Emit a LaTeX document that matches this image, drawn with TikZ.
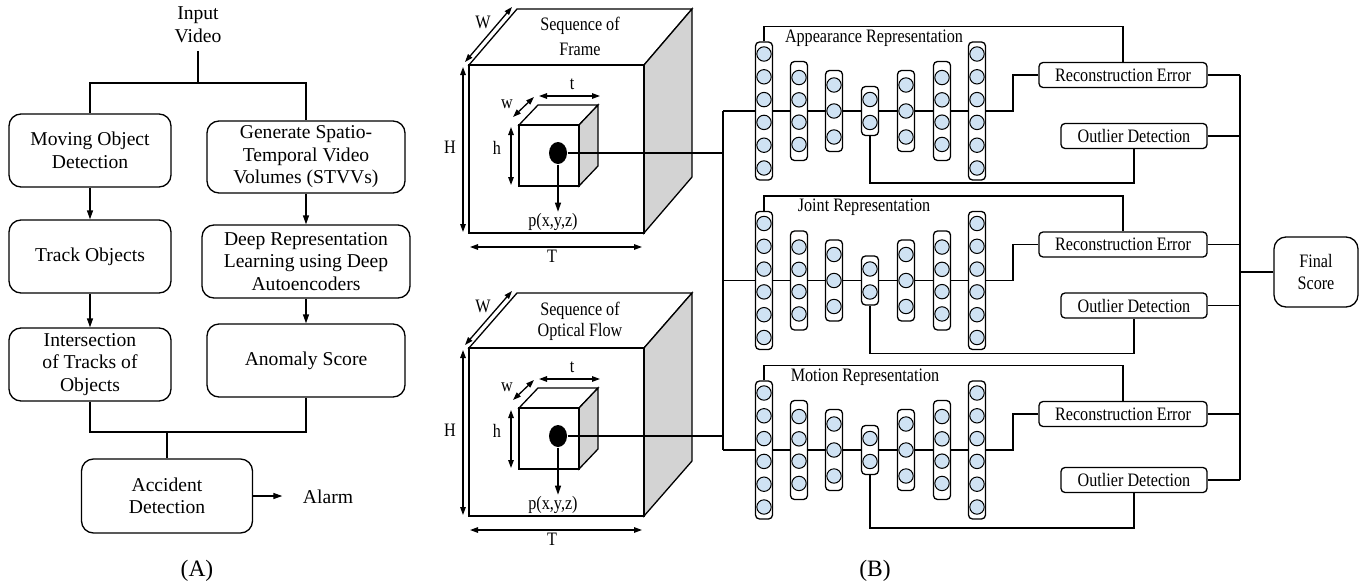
\documentclass[tikz,border=0pt]{standalone}
\usepackage{fontspec}
\setmainfont{Liberation Serif}
\newfontfamily\condser[FakeStretch=0.85]{Liberation Serif}
\usetikzlibrary{arrows.meta,shapes.geometric,calc}
\definecolor{neu}{RGB}{207,226,243}
\definecolor{side}{RGB}{211,211,211}
\newcommand\fA{\fontsize{19.6}{22.5}\selectfont}
\newcommand\fB{\condser\fontsize{19}{22}\selectfont}
\begin{document}
\begin{tikzpicture}[x=1pt,y=-1pt,line width=1.3pt,
  abox/.style={draw,rounded corners=12pt,align=center,font=\fA,inner sep=0pt},
  sbox/.style={draw,rounded corners=4pt,font=\fB,minimum height=25pt,inner sep=0pt},
  layer/.style={draw,rounded corners=4pt,minimum width=17pt,inner sep=0pt},
  lbl/.style={font=\fB,inner sep=0pt},
  arr/.style={-{Triangle[length=9pt,width=6pt]}},
  darr/.style={{Triangle[length=8pt,width=5.5pt]}-{Triangle[length=8pt,width=5.5pt]}}]
\useasboundingbox (0,0) rectangle (1372,586);

% ---------------- Panel A ----------------
\node[font=\fA,align=center,inner sep=0pt] (input) at (198,24.5) {Input\\Video};
\node[abox,minimum width=162pt,minimum height=73pt] (mod) at (90,150.5) {Moving Object\\Detection};
\node[abox,minimum width=162pt,minimum height=73pt] (trk) at (90,256.5) {Track Objects};
\node[abox,minimum width=162pt,minimum height=73pt] (ints) at (90,364.5) {Intersection\\of Tracks of\\Objects};
\node[abox,minimum width=198pt,minimum height=72pt] (gen) at (306,157) {Generate Spatio-\\Temporal Video\\Volumes (STVVs)};
\node[abox,minimum width=208pt,minimum height=73pt] (deep) at (306,261.5) {Deep Representation\\Learning using Deep\\Autoencoders};
\node[abox,minimum width=198pt,minimum height=73pt] (anom) at (306,360.5) {Anomaly Score};
\node[abox,minimum width=171pt,minimum height=74pt] (acc) at (167,496) {Accident\\Detection};
\node[font=\fA,inner sep=0pt,inner xsep=20pt] (alarm) at (328,497) {Alarm};
\node[font=\fontsize{23.5}{26}\selectfont] (labA) at (197,571) {(A)};
\coordinate (split) at (198,83);
\coordinate (merge) at (167,432);
\draw ([yshift=-8pt]input.south) -- (split);
\draw (split) -| (mod.north);
\draw (split) -| (gen.north);
\draw[arr] (mod) -- (trk);
\draw[arr] (trk) -- (ints);
\draw[arr] (gen) -- (deep);
\draw[arr] (deep) -- (anom);
\draw (ints.south) |- (merge);
\draw (anom.south) |- (merge);
\draw (merge) -- (acc.north);
\draw[arr] (acc.east) -- (acc.east -| alarm.west);

% ---------------- Cube 1 ----------------
\filldraw[fill=white] (469,65) -- (517,9) -- (692,9) -- (644,65) -- cycle;
\filldraw[fill=side] (644,65) -- (692,9) -- (692,177) -- (644,233) -- cycle;
\draw (469,65) rectangle (644,233);
\filldraw[fill=white] (519,125) -- (538,105) -- (598,105) -- (579,125) -- cycle;
\filldraw[fill=side] (579,125) -- (598,105) -- (598,166) -- (579,186) -- cycle;
\draw (519,125) rectangle (579,186);
\draw[darr] (465,62) -- (512,7);
\draw[darr] (463,67) -- (463,232);
\draw[darr] (470,247) -- (642,247);
\draw[darr] (513,117) -- (534,97);
\draw[darr] (539,96) -- (600,96);
\draw[darr] (511,127) -- (511,185);
\node[lbl] (W1) at (483,22) {W};
\node[lbl] (H1) at (450,147) {H};
\node[lbl] (T1) at (552,256) {T};
\node[lbl] (w1) at (507,104) {w};
\node[lbl] (t1) at (572,84) {t};
\node[lbl] (h1) at (497,148) {h};
\node[font=\condser\fontsize{19}{25}\selectfont,align=center,inner sep=0pt] (seq1) at (580,36) {Sequence of\\Frame};
\node[ellipse,fill=black,minimum width=18pt,minimum height=22pt,inner sep=0pt] (dot1) at (558,153) {};
\node[lbl,inner sep=1pt] (p1) at (553,222) {p(x,y,z)};
\draw[arr] (dot1.south) -- (dot1.south |- p1.north);

% ---------------- Cube 2 ----------------
\begin{scope}[shift={(0,283)}]
\filldraw[fill=white] (469,65) -- (517,10) -- (692,10) -- (644,65) -- cycle;
\filldraw[fill=side] (644,65) -- (692,10) -- (692,178) -- (644,233) -- cycle;
\draw (469,65) rectangle (644,233);
\filldraw[fill=white] (519,125) -- (538,105) -- (598,105) -- (579,125) -- cycle;
\filldraw[fill=side] (579,125) -- (598,105) -- (598,166) -- (579,186) -- cycle;
\draw (519,125) rectangle (579,186);
\draw[darr] (465,62) -- (512,8);
\draw[darr] (463,67) -- (463,232);
\draw[darr] (470,247) -- (642,247);
\draw[darr] (513,117) -- (534,97);
\draw[darr] (539,96) -- (600,96);
\draw[darr] (511,127) -- (511,185);
\node[lbl] (W2) at (483,23) {W};
\node[lbl] (H2) at (450,147) {H};
\node[lbl] (T2) at (552,256) {T};
\node[lbl] (w2) at (507,104) {w};
\node[lbl] (t2) at (572,84) {t};
\node[lbl] (h2) at (497,148) {h};
\node[font=\condser\fontsize{19}{21}\selectfont,align=center,inner sep=0pt] (seq2) at (580,38.5) {Sequence of\\Optical Flow};
\node[ellipse,fill=black,minimum width=18pt,minimum height=22pt,inner sep=0pt] (dot2) at (558,153) {};
\node[lbl,inner sep=1pt] (p2) at (553,222) {p(x,y,z)};
\draw[arr] (dot2.south) -- (dot2.south |- p2.north);
\end{scope}

% ---------------- Networks ----------------
\foreach \p/\cy/\od/\bt/\lab/\lx in {a/111/25/72/Appearance/874, j/280.5/25/73/Joint/864, m/450/30/78/Motion/865}{
  \foreach \i/\x/\n/\s/\hh in {1/764/6/22.8/138, 2/799/4/22.3/99, 3/834/3/26/81, 4/870/2/23/49, 5/906/3/26/81, 6/942/4/22.3/99, 7/977/6/22.8/138}{
    \node[layer,minimum height=\hh pt] (\p\i) at (\x,\cy) {};
    \foreach \k in {1,...,\n}{
      \pgfmathsetmacro\yy{\cy+(\k-(\n+1)/2)*\s}
      \draw[fill=neu,line width=1pt] (\x,\yy) circle[radius=7.2pt];
    }
  }
  \foreach \i/\j in {1/2,2/3,3/4,4/5,5/6,6/7}{\draw (\p\i.east) -- (\p\j.west);}
  \node[sbox,minimum width=168pt] (\p-RE) at (1123,\cy-36) {Reconstruction Error};
  \node[sbox,minimum width=146pt] (\p-OD) at (1134,\cy+\od) {Outlier Detection};
  \node[lbl] (\p-lab) at (\lx,\cy-73) {\lab\ Representation};
  \coordinate (\p-in) at (723,\cy);
  \coordinate (\p-bot) at (1134,\cy+\bt);
  \draw (\p-in) -- (\p1.west);
  \draw (\p1.north) -- ++(0,-15) -| (\p-RE.north);
  \draw (\p7.east) -- (1013,\cy) |- (\p-RE.west);
  \draw (\p4.south) |- (\p-bot) -- (\p-OD.south);
  \draw (\p-RE.east) -- (1240,\cy-36);
  \draw (\p-OD.east) -- (1240,\cy+\od);
}
\draw (dot1) -- (dot1 -| a-in);
\draw (dot2) -- (dot2 -| a-in);
\draw (a-in) -- (m-in);
\coordinate (busT) at (1240,75);
\coordinate (busB) at (1240,480);
\draw (busT) -- (busB);
\node[draw,rounded corners=12pt,align=center,font=\fB,inner sep=0pt,minimum width=84pt,minimum height=70pt] (fs) at (1316,272) {Final\\Score};
\draw (fs.west) -- (fs.west -| busT);
\node[font=\fontsize{23.5}{26}\selectfont] (labB) at (875,571) {(B)};
\end{tikzpicture}
\end{document}
